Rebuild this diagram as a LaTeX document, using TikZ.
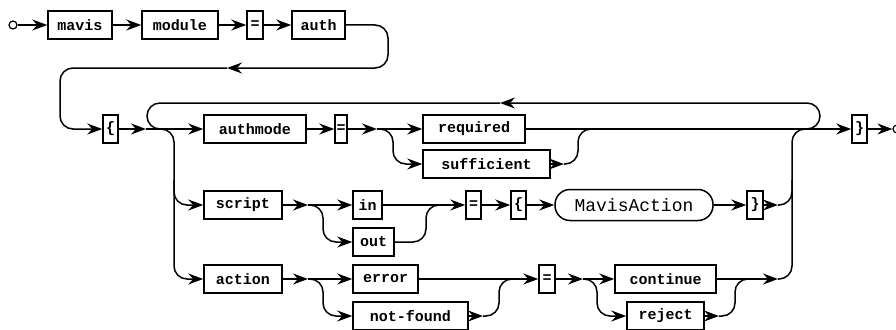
\documentclass[tikz,border=0pt]{standalone}
\usepackage{fontspec}
\setmonofont{Liberation Mono}
\usetikzlibrary{arrows.meta}
\begin{document}
\begin{tikzpicture}[x=1pt,y=-1pt,line width=1.5pt,
  kw/.style={draw,minimum height=28pt,inner sep=0pt,font=\ttfamily\bfseries\fontsize{15}{15}\selectfont},
  nt/.style={draw,rounded corners=15pt,minimum height=31pt,inner sep=0pt,font=\ttfamily\fontsize{18}{18}\selectfont},
  ep/.style={draw,circle,minimum size=8pt,inner sep=0pt,line width=1.2pt},
  ar/.style={-{Stealth[length=15pt,width=11pt,inset=5pt]}},
  rc/.style={rounded corners=13pt}]
\useasboundingbox (0,0) rectangle (896,329);
\node[ep] (start) at (13,25) {};
\node[kw,minimum width=64pt] (mavis) at (80,25) {mavis};
\node[kw,minimum width=76pt] (module) at (180,25) {module};
\node[kw,minimum width=16pt] (eqa) at (255,25) {=};
\node[kw,minimum width=53pt] (auth) at (318.5,25) {auth};
\node[kw,minimum width=15pt] (lba) at (110.5,129) {\{};
\node[kw,minimum width=102pt] (authmode) at (255,129) {authmode};
\node[kw,minimum width=12pt] (eqb) at (341,129) {=};
\node[kw,minimum width=102pt] (required) at (474,129) {required};
\node[kw,minimum width=127pt] (sufficient) at (486.5,164) {sufficient};
\node[kw,minimum width=15pt] (rba) at (859.5,129) {\}};
\node[ep] (stop) at (897,129) {};
\node[kw,minimum width=78pt] (script) at (243,205) {script};
\node[kw,minimum width=29pt] (dirin) at (367.5,205) {in};
\node[kw,minimum width=41pt] (dirout) at (373.5,242) {out};
\node[kw,minimum width=15pt] (eqc) at (473.5,205) {=};
\node[kw,minimum width=15pt] (lbb) at (518.5,205) {\{};
\node[nt,minimum width=158pt] (mavisaction) at (634,205) {MavisAction};
\node[kw,minimum width=16pt] (rbb) at (755,205) {\}};
\node[kw,minimum width=78pt] (action) at (243,279) {action};
\node[kw,minimum width=65pt] (error) at (385.5,279) {error};
\node[kw,minimum width=115pt] (notfound) at (410.5,316) {not-found};
\node[kw,minimum width=16pt] (eqd) at (547,279) {=};
\node[kw,minimum width=101pt] (cont) at (665.5,279) {continue};
\node[kw,minimum width=77pt] (reject) at (665.5,316) {reject};
\coordinate (back) at (227,68);
\coordinate (jL) at (146,129);
\coordinate (jA) at (377,129);
\coordinate (sE) at (564,164);
\coordinate (jR) at (807,129);
\coordinate (top) at (500,103);
\coordinate (jS) at (308,205);
\coordinate (sR) at (778,205);
\coordinate (jT) at (308,279);
\coordinate (nR) at (483,316);
\coordinate (jU) at (583,279);
\coordinate (rR) at (719,316);
\coordinate (aR) at (778,279);
\draw[ar] (start) -- (mavis);
\draw[ar] (mavis) -- (module);
\draw[ar] (module) -- (eqa);
\draw[ar] (eqa) -- (auth);
\draw[rc,ar] (auth.east) -| (388,68) -- (back);
\draw[rc,ar] (back) -| (60,129) -- (lba.west);
\draw[ar] (lba) -- (jL);
\draw[ar] (jL) -- (authmode);
\draw[ar] (authmode) -- (eqb);
\draw[ar] (eqb) -- (jA);
\draw[ar] (jA) -- (required);
\draw[rc,ar] (jA) -| (393,164) -- (sufficient.west);
\draw[ar] (sufficient) -- (sE);
\draw[rc] (sE) -| (578,129) -- (600,129);
\draw (required) -- (jR);
\draw[ar] (jR) -- (rba);
\draw[ar] (rba) -- (stop);
\draw[rc,ar] (jR) -- (820,129) |- (top);
\draw[rc] (top) -| (147,129) -- (175,129);
\draw[rc,ar] (jL) -| (174,279) -- (action.west);
\draw[rc,ar] (174,180) |- (script.west);
\draw[ar] (script) -- (jS);
\draw[ar] (jS) -- (dirin);
\draw[rc,ar] (jS) -| (323,242) -- (dirout.west);
\draw[ar] (dirin) -- (eqc);
\draw[rc] (dirout.east) -| (426,205) -- (440,205);
\draw[ar] (eqc) -- (lbb);
\draw[ar] (lbb) -- (mavisaction);
\draw[ar] (mavisaction) -- (rbb);
\draw[ar] (rbb) -- (sR);
\draw[rc] (sR) -| (792,180);
\draw[ar] (action) -- (jT);
\draw[ar] (jT) -- (error);
\draw[rc,ar] (jT) -| (323,316) -- (notfound.west);
\draw[ar] (error) -- (eqd);
\draw[ar] (notfound) -- (nR);
\draw[rc] (nR) -| (499,279) -- (512,279);
\draw[ar] (eqd) -- (jU);
\draw[ar] (jU) -- (cont);
\draw[rc,ar] (jU) -| (597,316) -- (reject.west);
\draw[ar] (reject) -- (rR);
\draw[rc] (rR) -| (735,279) -- (750,279);
\draw[ar] (cont) -- (aR);
\draw[rc] (aR) -| (792,129) -- (jR);
\end{tikzpicture}
\end{document}
